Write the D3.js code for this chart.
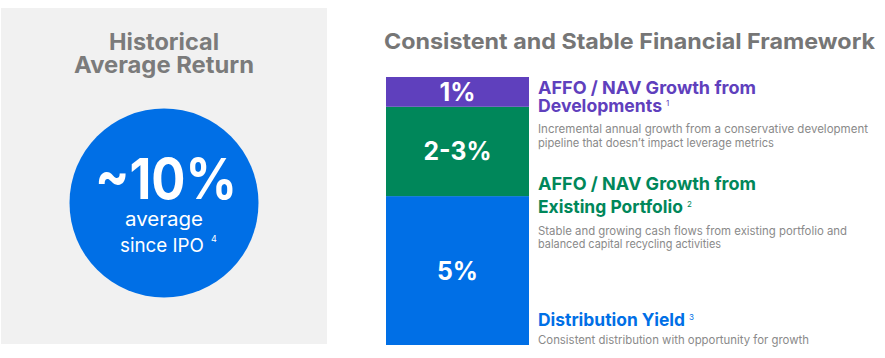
<!DOCTYPE html>
<html><head><meta charset="utf-8">
<script src="https://cdn.jsdelivr.net/npm/d3@7/dist/d3.min.js"></script>
<style>
html,body{margin:0;padding:0;background:#fff;}
svg{display:block;font-family:"Inter","Noto Sans",sans-serif;}
</style></head>
<body><svg id="c" width="885" height="358"></svg>
<script>
// ---- data ----
const segments = ["Distribution Yield", "AFFO / NAV Growth from Existing Portfolio", "AFFO / NAV Growth from Developments"];
const segmentValues = [5, 3, 1];            // 2-3% drawn at its upper bound
const segmentLabels = ["5%", "2-3%", "1%"];
const segmentColors = ["#006fe6", "#00875a", "#5f40bd"];
const headingLines = [["Distribution Yield"], ["AFFO / NAV Growth from", "Existing Portfolio"], ["AFFO / NAV Growth from", "Developments"]];
const footnotes = ["3", "2", "1"];
const descLines = [
  ["Consistent distribution with opportunity for growth"],
  ["Stable and growing cash flows from existing portfolio and", "balanced capital recycling activities"],
  ["Incremental annual growth from a conservative development", "pipeline that doesn\u2019t impact leverage metrics"]
];
const historicalReturn = "~10%";

const svg = d3.select("#c");
// stretch a text horizontally to a given width, keeping its height
function fit(t, w){ if(w) t.attr("textLength", w).attr("lengthAdjust","spacingAndGlyphs"); return t; }

// ---- left panel ----
svg.append("rect").attr("x",1).attr("y",8).attr("width",326).attr("height",336).attr("fill","#f1f1f1");
fit(svg.append("text").attr("x",109).attr("y",50).attr("font-size",23).attr("font-weight",700).attr("fill","#7b7b7b").text("Historical"),110);
fit(svg.append("text").attr("x",74).attr("y",73).attr("font-size",23).attr("font-weight",700).attr("fill","#7b7b7b").text("Average Return"),180);
svg.append("circle").attr("cx",164).attr("cy",203).attr("r",94.5).attr("fill","#006fe6");
fit(svg.append("text").attr("x",95).attr("y",199).attr("font-size",56).attr("font-weight",700).attr("fill","#fff").text(historicalReturn),142);
fit(svg.append("text").attr("x",125).attr("y",226).attr("font-size",19).attr("fill","#fff").text("average"),78);
fit(svg.append("text").attr("x",120).attr("y",252).attr("font-size",19).attr("fill","#fff").text("since IPO"),84);
svg.append("text").attr("x",211).attr("y",242).attr("font-size",9).attr("fill","#fff").text("4");

// ---- right panel ----
fit(svg.append("text").attr("x",384).attr("y",49).attr("font-size",22).attr("font-weight",700).attr("fill","#767676").text("Consistent and Stable Financial Framework"),491);

const y = d3.scaleLinear().domain([0, d3.sum(segmentValues)]).range([345, 77]);
let cum = 0;
const stack = segmentValues.map((v,i)=>{ const s={i, y0:cum, y1:cum+v}; cum+=v; return s; });
const barX = 386, barW = 143;
const g = svg.append("g");
g.selectAll("rect").data(stack).join("rect")
  .attr("x",barX).attr("width",barW)
  .attr("y",d=>y(d.y1)).attr("height",d=>y(d.y0)-y(d.y1))
  .attr("fill",d=>segmentColors[d.i]);
const labW = [41, 68, 36];
g.selectAll("text.lab").data(stack).join("text").attr("class","lab")
  .attr("x",d=>barX+barW/2-labW[d.i]/2).attr("y",d=>(y(d.y0)+y(d.y1))/2+9)
  .attr("font-size",25).attr("font-weight",700).attr("fill","#fff")
  .text(d=>segmentLabels[d.i])
  .each(function(d){ fit(d3.select(this), labW[d.i]); });

// headings + descriptions (layout)
const tx = 538;
const headY = [[326],[190,213],[94,112]];
const headW = [[147],[218,145],[218,124]];
const descY = [[344],[235,248],[133,147]];
const descW = [[271],[309,183],[330,236]];
segments.forEach((s,i)=>{
  headingLines[i].forEach((line,j)=>{
    const t = svg.append("text").attr("x",tx).attr("y",headY[i][j]).attr("font-size",18).attr("font-weight",700).attr("fill",segmentColors[i]).text(line);
    fit(t, headW[i][j]);
    if(j===headingLines[i].length-1){
      svg.append("text").attr("x",tx+headW[i][j]+4).attr("y",headY[i][j]-6).attr("font-size",8).attr("fill",segmentColors[i]).text(footnotes[i]);
    }
  });
  descLines[i].forEach((line,j)=>{
    const t = svg.append("text").attr("x",tx).attr("y",descY[i][j]).attr("font-size",11.5).attr("fill","#8a8a8a").text(line);
    fit(t, descW[i][j]);
  });
});
</script></body></html>
